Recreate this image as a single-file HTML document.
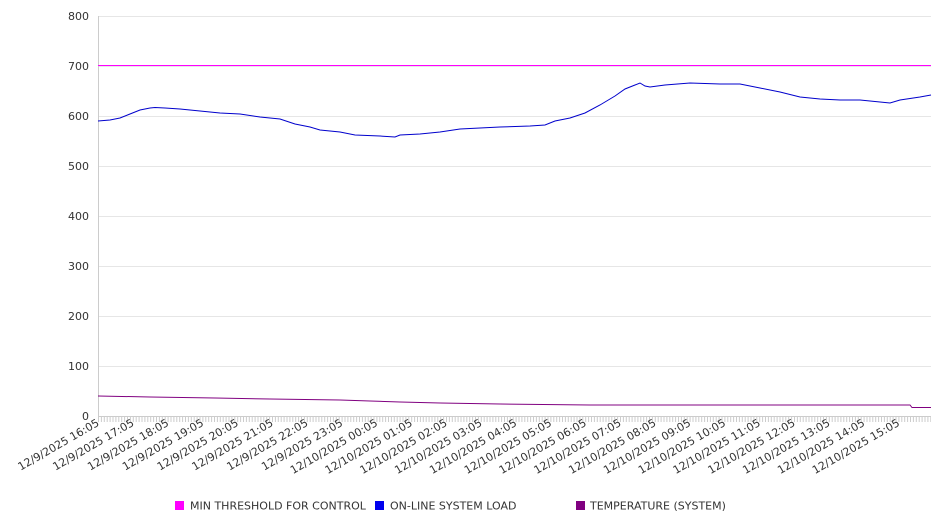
<!DOCTYPE html>
<html><head><meta charset="utf-8"><style>
html,body{margin:0;padding:0;background:#fff}
svg{display:block;font-family:"DejaVu Sans","Liberation Sans",sans-serif}
</style></head><body>
<svg width="946" height="526" viewBox="0 0 946 526" xmlns="http://www.w3.org/2000/svg">
<g stroke="#e6e6e6" stroke-width="1" shape-rendering="crispEdges">
<line x1="98" y1="16.5" x2="931" y2="16.5"/><line x1="98" y1="66.5" x2="931" y2="66.5"/>
<line x1="98" y1="116.5" x2="931" y2="116.5"/><line x1="98" y1="166.5" x2="931" y2="166.5"/>
<line x1="98" y1="216.5" x2="931" y2="216.5"/><line x1="98" y1="266.5" x2="931" y2="266.5"/>
<line x1="98" y1="316.5" x2="931" y2="316.5"/><line x1="98" y1="366.5" x2="931" y2="366.5"/>
</g>
<line x1="98.5" y1="16" x2="98.5" y2="417" stroke="#ccc" shape-rendering="crispEdges"/>
<line x1="98" y1="416.5" x2="931" y2="416.5" stroke="#ccc" shape-rendering="crispEdges"/>
<line x1="98" y1="419.5" x2="931" y2="419.5" stroke="#ccc" stroke-width="5" stroke-dasharray="1 1.9"/>
<g font-size="11" fill="#333" text-anchor="end">
<text x="89" y="20">800</text><text x="89" y="70">700</text><text x="89" y="120">600</text>
<text x="89" y="170">500</text><text x="89" y="220">400</text><text x="89" y="270">300</text>
<text x="89" y="320">200</text><text x="89" y="370">100</text><text x="89" y="420">0</text>
</g>
<rect x="98" y="65" width="833" height="1" fill="#ff00ff"/>
<polyline fill="none" stroke="#0000cc" stroke-width="1" points="98,121 110,120 120,118 130,114 140,110 150,108 155,107.5 165,108 180,109 200,111 220,113 240,114 260,117 280,119 295,124 310,127 320,130 340,132 355,135 380,136 395,137 400,135 420,134 440,132 460,129 480,128 500,127 530,126 545,125 555,121 570,118 585,113 600,105 615,96 625,89 635,85 640,83 645,86 650,87 665,85 690,83 720,84 740,84 760,88 780,92 800,97 820,99 840,100 860,100 880,102 890,103 900,100 920,97 931,95"/>
<polyline fill="none" stroke="#800080" stroke-width="1" points="98,396 150,397 215,398 270,399 340,400 370,401 400,402 440,403 500,404 590,405 910,405 912,407.5 931,407.5"/>
<g font-size="11" fill="#333" text-anchor="end">
<text transform="translate(100,425) rotate(-30)">12/9/2025 16:05</text>
<text transform="translate(134.8,425) rotate(-30)">12/9/2025 17:05</text>
<text transform="translate(169.6,425) rotate(-30)">12/9/2025 18:05</text>
<text transform="translate(204.4,425) rotate(-30)">12/9/2025 19:05</text>
<text transform="translate(239.2,425) rotate(-30)">12/9/2025 20:05</text>
<text transform="translate(274,425) rotate(-30)">12/9/2025 21:05</text>
<text transform="translate(308.8,425) rotate(-30)">12/9/2025 22:05</text>
<text transform="translate(343.6,425) rotate(-30)">12/9/2025 23:05</text>
<text transform="translate(378.4,425) rotate(-30)">12/10/2025 00:05</text>
<text transform="translate(413.2,425) rotate(-30)">12/10/2025 01:05</text>
<text transform="translate(448,425) rotate(-30)">12/10/2025 02:05</text>
<text transform="translate(482.8,425) rotate(-30)">12/10/2025 03:05</text>
<text transform="translate(517.6,425) rotate(-30)">12/10/2025 04:05</text>
<text transform="translate(552.4,425) rotate(-30)">12/10/2025 05:05</text>
<text transform="translate(587.2,425) rotate(-30)">12/10/2025 06:05</text>
<text transform="translate(622,425) rotate(-30)">12/10/2025 07:05</text>
<text transform="translate(656.8,425) rotate(-30)">12/10/2025 08:05</text>
<text transform="translate(691.6,425) rotate(-30)">12/10/2025 09:05</text>
<text transform="translate(726.4,425) rotate(-30)">12/10/2025 10:05</text>
<text transform="translate(761.2,425) rotate(-30)">12/10/2025 11:05</text>
<text transform="translate(796,425) rotate(-30)">12/10/2025 12:05</text>
<text transform="translate(830.8,425) rotate(-30)">12/10/2025 13:05</text>
<text transform="translate(865.6,425) rotate(-30)">12/10/2025 14:05</text>
<text transform="translate(900.4,425) rotate(-30)">12/10/2025 15:05</text>
</g>
<rect x="175" y="501" width="9" height="9" fill="#ff00ff"/>
<rect x="375" y="501" width="9" height="9" fill="#0000ee"/>
<rect x="576" y="501" width="9" height="9" fill="#800080"/>
<g font-size="11" fill="#333">
<text x="190" y="509.5">MIN THRESHOLD FOR CONTROL</text>
<text x="390" y="509.5">ON-LINE SYSTEM LOAD</text>
<text x="590" y="509.5">TEMPERATURE (SYSTEM)</text>
</g>
</svg>
</body></html>
